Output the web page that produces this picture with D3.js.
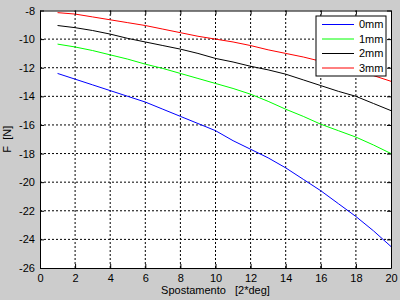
<!DOCTYPE html>
<html>
<head>
<meta charset="utf-8">
<script src="https://cdn.jsdelivr.net/npm/d3@7"></script>
<style>
  body { margin: 0; background: #cccccc; }
  text { font-family: 'Liberation Sans', Arial, sans-serif; font-size: 11px; fill: #000; }
</style>
</head>
<body>
<div id="app"></div>
<script>
(function (d3) {

  'use strict'

  const xs = d3.range(1, 21)
  const mm0 = [-12.4, -12.8, -13.2, -13.6, -14.0, -14.4, -14.9, -15.4, -15.9, -16.4, -17.1, -17.7, -18.3, -19.0, -19.8, -20.6, -21.5, -22.4, -23.4, -24.5]
  const mm1 = [-10.35, -10.55, -10.8, -11.1, -11.4, -11.75, -12.05, -12.4, -12.75, -13.1, -13.45, -13.85, -14.35, -14.9, -15.4, -15.95, -16.4, -16.85, -17.4, -18.0]
  const mm2 = [-9.05, -9.2, -9.4, -9.65, -9.95, -10.2, -10.45, -10.7, -11.0, -11.35, -11.6, -11.9, -12.15, -12.45, -12.85, -13.25, -13.65, -14.0, -14.5, -15.0]
  const mm3 = [-8.15, -8.25, -8.45, -8.65, -8.85, -9.05, -9.3, -9.55, -9.8, -10.0, -10.2, -10.45, -10.75, -11.0, -11.25, -11.55, -11.85, -12.2, -12.55, -12.95]
  const names = ['0mm', '1mm', '2mm', '3mm']
  const colors = ['#0000ff', '#00ff00', '#000000', '#ff0000']
  const xTicks = d3.range(0, 21, 2)
  const yTicks = d3.range(-26, -7, 2)

  const w = 400
  const h = 300
  const m = { l: 40, r: 9, t: 10.5, b: 32 }

  const x = d3.scaleLinear().domain([0, 20]).range([m.l, w - m.r])
  const y = d3.scaleLinear().domain([-26, -8]).range([h - m.b, m.t])

  const svg = d3.select('#app')
  .append('svg')
  .attr('width', w)
  .attr('height', h)

  svg.append('rect')
  .attr('width', w)
  .attr('height', h)
  .attr('fill', '#cccccc')

  svg.append('rect')
  .attr('x', x(0))
  .attr('y', y(-8))
  .attr('width', x(20) - x(0))
  .attr('height', y(-26) - y(-8))
  .attr('fill', '#fff')

  // grid
  svg.append('g')
  .selectAll('line')
  .data(xTicks.slice(1, -1))
  .enter()
  .append('line')
  .attr('x1', d => x(d)).attr('x2', d => x(d))
  .attr('y1', y(-26)).attr('y2', y(-8))
  .attr('stroke', '#000')
  .attr('stroke-dasharray', '2,2')

  svg.append('g')
  .selectAll('line')
  .data(yTicks.slice(1, -1))
  .enter()
  .append('line')
  .attr('y1', d => y(d)).attr('y2', d => y(d))
  .attr('x1', x(0)).attr('x2', x(20))
  .attr('stroke', '#000')
  .attr('stroke-dasharray', '2,2')

  // series
  const line = d3.line()
  .x((d, i) => x(xs[i]))
  .y(d => y(d))

  svg.append('g')
  .selectAll('path')
  .data([mm0, mm1, mm2, mm3])
  .enter()
  .append('path')
  .attr('d', line)
  .attr('fill', 'none')
  .attr('stroke', (d, i) => colors[i])
  .attr('stroke-width', 1)

  // axes, ticks inside on all sides
  const tick = 4
  const axB = svg.append('g')
  .attr('transform', `translate(0,${y(-26)})`)
  .call(d3.axisBottom(x).tickValues(xTicks).tickSizeInner(-tick).tickSizeOuter(0).tickPadding(6))
  const axT = svg.append('g')
  .attr('transform', `translate(0,${y(-8)})`)
  .call(d3.axisTop(x).tickValues(xTicks).tickSizeInner(-tick).tickSizeOuter(0).tickFormat(''))
  const axL = svg.append('g')
  .attr('transform', `translate(${x(0)},0)`)
  .call(d3.axisLeft(y).tickValues(yTicks).tickSizeInner(-tick).tickSizeOuter(0).tickPadding(5).tickFormat(d3.format('d')))
  const axR = svg.append('g')
  .attr('transform', `translate(${x(20)},0)`)
  .call(d3.axisRight(y).tickValues(yTicks).tickSizeInner(-tick).tickSizeOuter(0).tickFormat(''))

  ;[axB, axT, axL, axR].forEach(a => {
    a.select('.domain').attr('stroke', '#000')
    a.selectAll('.tick line').attr('stroke', '#000')
    a.selectAll('text').attr('font-size', 11).attr('font-family', null)
  })
  axL.selectAll('text').text(d => d3.format('d')(d).replace('−', '-'))

  svg.append('text')
  .attr('x', (x(0) + x(20)) / 2)
  .attr('y', 294)
  .attr('text-anchor', 'middle')
  .attr('xml:space', 'preserve')
  .style('white-space', 'pre')
  .text('Spostamento   [2*deg]')

  svg.append('text')
  .attr('transform', `translate(11,${(y(-8) + y(-26)) / 2}) rotate(-90)`)
  .attr('text-anchor', 'middle')
  .style('white-space', 'pre')
  .text('F  [N]')

  // legend
  const lg = svg.append('g')
  .attr('transform', 'translate(316,16)')

  lg.append('rect')
  .attr('width', 70)
  .attr('height', 60)
  .attr('fill', '#fff')
  .attr('stroke', '#000')

  const item = lg.selectAll('g')
  .data(names)
  .enter()
  .append('g')
  .attr('transform', (d, i) => `translate(0,${8.5 + i * 14.5})`)

  item.append('line')
  .attr('x1', 6).attr('x2', 38)
  .attr('stroke', (d, i) => colors[i])

  item.append('text')
  .attr('x', 43)
  .attr('dy', '0.35em')
  .text(d => d)

}(d3))
</script>
</body>
</html>
